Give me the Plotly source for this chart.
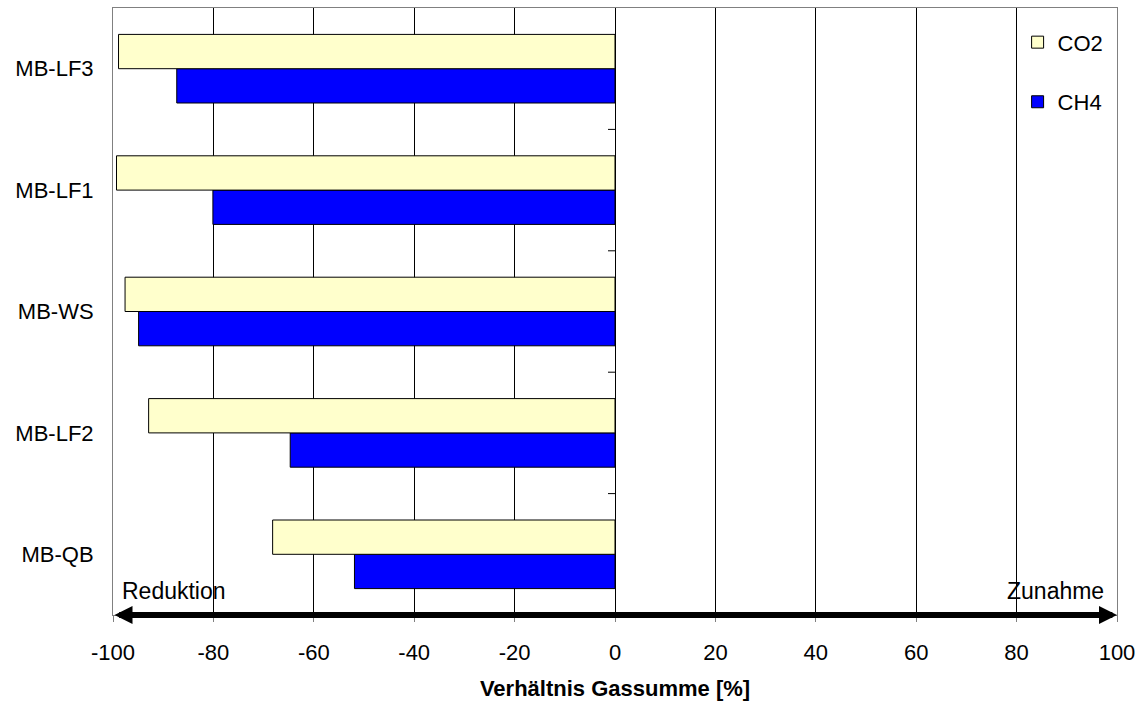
import plotly.graph_objects as go

# Standorte (unten nach oben) und Verhältnis der Gassumme in %
standorte = ["MB-QB", "MB-LF2", "MB-WS", "MB-LF1", "MB-LF3"]
co2 = [-68.2, -92.9, -97.6, -99.3, -98.9]
ch4 = [-51.9, -64.7, -94.9, -80.1, -87.3]
x_ticks = [-100, -80, -60, -40, -20, 0, 20, 40, 60, 80, 100]

FONT = "Liberation Sans, Arial, sans-serif"
GRAU = "#808080"

fig = go.Figure()
fig.add_trace(go.Bar(
    name="CH4", y=standorte, x=ch4, orientation="h",
    marker=dict(color="#0000FF", line=dict(color="black", width=1)),
    legendgroup="ch4", legendrank=2,
))
fig.add_trace(go.Bar(
    name="CO2", y=standorte, x=co2, orientation="h",
    marker=dict(color="#FFFFCC", line=dict(color="black", width=1)),
    legendgroup="co2", legendrank=1,
))

# kleine Teilstriche an der Nulllinie zwischen den Kategorien
shapes = []
for i in range(len(standorte) - 1):
    shapes.append(dict(
        type="line", xref="x", yref="y", xsizemode="pixel", xanchor=0,
        x0=-7, x1=0, y0=i + 0.5, y1=i + 0.5,
        line=dict(color="black", width=1),
    ))

annotations = [
    # Doppelpfeil entlang der x-Achse
    dict(x=100, y=0, xref="x", yref="y domain",
         ax=-100, ay=0, axref="x", ayref="y domain",
         text="", showarrow=True, arrowside="end+start",
         arrowhead=2, startarrowhead=2, arrowsize=0.6, startarrowsize=0.6,
         arrowwidth=6, arrowcolor="black", standoff=0, startstandoff=0),
    dict(x=-100, y=0, xref="x", yref="y domain", xanchor="left", yanchor="bottom",
         xshift=7, yshift=9, text="Reduktion", showarrow=False,
         font=dict(family=FONT, size=23, color="black")),
    dict(x=100, y=0, xref="x", yref="y domain", xanchor="right", yanchor="bottom",
         xshift=-11, yshift=9, text="Zunahme", showarrow=False,
         font=dict(family=FONT, size=23, color="black")),
]

fig.update_layout(
    width=1144, height=704,
    margin=dict(l=113, r=27, t=7, b=87),
    paper_bgcolor="white", plot_bgcolor="white",
    barmode="group", bargap=0.435, bargroupgap=0,
    font=dict(family=FONT, size=22, color="black"),
    showlegend=True,
    legend=dict(
        x=0.901, y=0.978, xanchor="left", yanchor="top",
        traceorder="grouped", tracegroupgap=28, itemwidth=30,
        bgcolor="rgba(0,0,0,0)", font=dict(family=FONT, size=22),
    ),
    xaxis=dict(
        range=[-100, 100], tickvals=x_ticks, ticktext=[str(v) for v in x_ticks],
        showgrid=True, gridcolor="black", gridwidth=1,
        zeroline=True, zerolinecolor="black", zerolinewidth=1,
        showline=True, linecolor=GRAU, linewidth=1, mirror=True,
        ticks="outside", ticklen=6, tickcolor=GRAU, ticklabelstandoff=12,
        title=dict(text="<b>Verhältnis Gassumme [%]</b>", standoff=16,
                   font=dict(family=FONT, size=22)),
        fixedrange=True,
    ),
    yaxis=dict(
        type="category", categoryorder="array", categoryarray=standorte,
        showgrid=False, zeroline=False,
        showline=True, linecolor=GRAU, linewidth=1, mirror=True,
        ticks="", ticklabelstandoff=14,
        fixedrange=True,
    ),
    shapes=shapes,
    annotations=annotations,
)

fig.write_html("out.html")
